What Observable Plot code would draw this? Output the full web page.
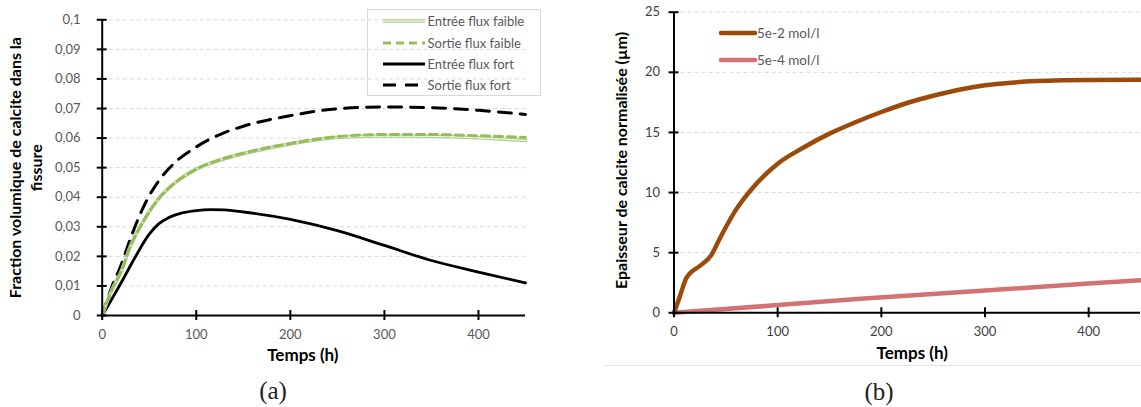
<!DOCTYPE html>
<html><head><meta charset="utf-8">
<script src="https://cdn.jsdelivr.net/npm/d3@7"></script>
<script src="https://cdn.jsdelivr.net/npm/@observablehq/plot@0.6"></script>
<style>
body{margin:0;background:#fff;}
#wrap{position:relative;width:1141px;height:407px;overflow:hidden;font-family:Lato,sans-serif;}
#wrap > svg{position:absolute;top:0;}
.cap{position:absolute;font-family:"Liberation Serif",serif;font-size:25px;color:#222;transform:translate(-50%,-50%);white-space:nowrap;}
.leg{position:absolute;font-family:Lato,sans-serif;color:#595959;white-space:nowrap;}
.leg svg{position:absolute;}
.leg span{position:absolute;transform:translateY(-50%);}
</style></head><body><div id="wrap"></div>
<script>
// ---------- Data: panel (a) ----------
const tA = [0,10,20,30,45,60,80,100,125,150,200,250,300,350,400,450];
const entreeFaible = [0,0.0085,0.0148,0.0235,0.0325,0.0395,0.0455,0.0495,0.0525,0.0547,0.058,0.0602,0.0607,0.0606,0.0601,0.0592];
const sortieFaible = [0,0.0085,0.0148,0.0235,0.0325,0.0395,0.0455,0.0495,0.0527,0.0549,0.0582,0.0605,0.0612,0.0612,0.0608,0.0602];
const tSortieFort = [0,10,20,30,40,50,60,75,100,125,150,200,250,300,350,400,450];
const sortieFort = [0,0.0095,0.017,0.026,0.034,0.0405,0.0455,0.051,0.057,0.0612,0.064,0.0676,0.0699,0.0705,0.0703,0.0694,0.068];
const tEntreeFort = [0,20,35,50,60,70,85,100,115,130,150,200,250,300,350,400,450];
const entreeFort = [0,0.011,0.0197,0.0275,0.031,0.033,0.0347,0.0355,0.0358,0.0357,0.035,0.0325,0.0287,0.0237,0.0186,0.0147,0.011];
const yTicksA = [0,0.01,0.02,0.03,0.04,0.05,0.06,0.07,0.08,0.09,0.1];
const xTicks = [0,100,200,300,400];
const seriesNamesA = ["Entrée flux faible","Sortie flux faible","Entrée flux fort","Sortie flux fort"];
const yLabelA = "Fraction volumique de calcite dans la\nfissure";
const xLabel = "Temps (h)";

// ---------- Data: panel (b) ----------
const tB1 = [0,5,12,15,25,36,42,48,60,75,100,125,150,175,200,225,250,275,300,325,350,375,400,450];
const conc2 = [0,1.2,2.9,3.25,3.9,4.8,5.8,6.8,8.6,10.3,12.4,13.75,14.9,15.85,16.7,17.45,18.05,18.55,18.92,19.14,19.27,19.34,19.37,19.38];
const tB2 = [0,100,180,300,400,450];
const conc4 = [0,0.64,1.16,1.85,2.43,2.7];
const yTicksB = [0,5,10,15,20,25];
const seriesNamesB = ["5e-2 mol/l","5e-4 mol/l"];
const yLabelB = "Epaisseur de calcite normalisée (µm)";
const captions = ["(a)","(b)"];

const rows = (t, v) => t.map((x, i) => ({t: x, v: v[i]}));
const commaFmt = d => String(d).replace(".", ",");

const wrap = document.getElementById("wrap");

// ---------- Panel (a) ----------
const plotA = Plot.plot({
  width: 570, height: 407,
  marginLeft: 101.7, marginRight: 45, marginTop: 19.3, marginBottom: 92,
  x: {domain: [0, 450]},
  y: {domain: [0, 0.1]},
  style: {fontFamily: "Lato, sans-serif", fontSize: "13px", background: "transparent", overflow: "visible"},
  marks: [
    Plot.gridY(yTicksA.slice(1), {stroke: "#d9d9d9", strokeOpacity: 1, strokeDasharray: "4,3"}),
    Plot.line(rows(tEntreeFort, entreeFort), {x: "t", y: "v", stroke: "#000", strokeWidth: 2.8, curve: "monotone-x"}),
    Plot.line(rows(tSortieFort, sortieFort), {x: "t", y: "v", stroke: "#000", strokeWidth: 3, strokeDasharray: "13,9", curve: "monotone-x"}),
    Plot.line(rows(tA, entreeFaible), {x: "t", y: "v", stroke: "#a9d18e", strokeWidth: 3.5, curve: "monotone-x"}),
    Plot.line(rows(tA, entreeFaible), {x: "t", y: "v", stroke: "#fff", strokeWidth: 1, curve: "monotone-x"}),
    Plot.line(rows(tA, sortieFaible), {x: "t", y: "v", stroke: "#9bbb59", strokeWidth: 3, strokeDasharray: "8,5", curve: "monotone-x"}),
    Plot.ruleX([0], {stroke: "#000", strokeWidth: 2}),
    Plot.ruleY([0], {stroke: "#000", strokeWidth: 2}),
    Plot.axisY(yTicksA, {tickSize: 10, dx: 5, tickPadding: 16.7, stroke: "#000", strokeWidth: 2, fill: "#595959", fontSize: 13, tickFormat: commaFmt, label: null}),
    Plot.axisX(xTicks, {tickSize: 10, dy: -5, tickPadding: 9, stroke: "#000", strokeWidth: 2, fill: "#595959", fontSize: 13, label: null}),
    Plot.text([xLabel], {text: d => d, frameAnchor: "bottom", lineAnchor: "middle", dx: -11, dy: 40, fontSize: 17, fontWeight: "bold", fill: "#000"}),
    Plot.text([yLabelA], {text: d => d, frameAnchor: "left", textAnchor: "middle", rotate: -90, dx: -77, lineAnchor: "middle", lineHeight: 1.3, fontSize: 16, fontWeight: "bold", fill: "#000"})
  ]
});
plotA.style.left = "0px";
wrap.appendChild(plotA);

// ---------- Panel (b) ----------
const plotB = Plot.plot({
  width: 571, height: 407,
  marginLeft: 103.5, marginRight: 1, marginTop: 11.7, marginBottom: 94.7,
  x: {domain: [0, 450]},
  y: {domain: [0, 25]},
  style: {fontFamily: "Lato, sans-serif", fontSize: "13px", background: "transparent", overflow: "visible"},
  marks: [
    Plot.gridY(yTicksB.slice(1), {stroke: "#d9d9d9", strokeOpacity: 1, strokeDasharray: "4,3"}),
    Plot.line(rows(tB2, conc4), {x: "t", y: "v", stroke: "#d27272", strokeWidth: 4.5}),
    Plot.line(rows(tB1, conc2), {x: "t", y: "v", stroke: "#9c4a0a", strokeWidth: 4.5, curve: "monotone-x"}),
    Plot.ruleX([0], {stroke: "#000", strokeWidth: 2}),
    Plot.ruleY([0], {stroke: "#000", strokeWidth: 2}),
    Plot.axisY(yTicksB, {tickSize: 10, dx: 5, tickPadding: 9, stroke: "#000", strokeWidth: 2, fill: "#404040", fontSize: 13, label: null}),
    Plot.axisX(xTicks, {tickSize: 10, dy: -5, tickPadding: 9, stroke: "#000", strokeWidth: 2, fill: "#404040", fontSize: 13, label: null}),
    Plot.text([xLabel], {text: d => d, frameAnchor: "bottom", lineAnchor: "middle", dx: 5, dy: 41, fontSize: 17, fontWeight: "bold", fill: "#000"}),
    Plot.text([yLabelB], {text: d => d, frameAnchor: "left", textAnchor: "middle", rotate: -90, dx: -52, dy: -2, lineAnchor: "middle", fontSize: 16, fontWeight: "bold", fill: "#000"})
  ]
});
plotB.style.left = "570px";
wrap.appendChild(plotB);

// ---------- Legends ----------
const swA = [
  {stroke: "#a9d18e", w: 3.5, dash: null, inner: true},
  {stroke: "#9bbb59", w: 3, dash: "8,5"},
  {stroke: "#000", w: 2.8, dash: null},
  {stroke: "#000", w: 3, dash: "13,9"}
];
const legA = document.createElement("div");
legA.className = "leg";
Object.assign(legA.style, {left: "366.5px", top: "9px", width: "172px", height: "85px", border: "1px solid #d9d9d9", fontSize: "13px"});
const rowYA = [11, 32.7, 53.7, 75];
seriesNamesA.forEach((name, i) => {
  const s = swA[i];
  const svg = document.createElementNS("http://www.w3.org/2000/svg", "svg");
  svg.setAttribute("width", 44); svg.setAttribute("height", 10);
  svg.style.left = "14px"; svg.style.top = (rowYA[i] - 5) + "px";
  let inner = `<line x1="1" x2="43" y1="5" y2="5" stroke="${s.stroke}" stroke-width="${s.w}" ${s.dash ? `stroke-dasharray="${s.dash}"` : ""}/>`;
  if (s.inner) inner += `<line x1="1" x2="43" y1="5" y2="5" stroke="#fff" stroke-width="1"/>`;
  svg.innerHTML = inner;
  legA.appendChild(svg);
  const sp = document.createElement("span");
  sp.textContent = name;
  sp.style.left = "60px"; sp.style.top = rowYA[i] + "px";
  legA.appendChild(sp);
});
wrap.appendChild(legA);

const swB = ["#9c4a0a", "#d27272"];
const legB = document.createElement("div");
legB.className = "leg";
Object.assign(legB.style, {left: "718px", top: "20px", width: "120px", height: "60px", fontSize: "13.5px"});
const rowYB = [12.7, 40.3];
seriesNamesB.forEach((name, i) => {
  const svg = document.createElementNS("http://www.w3.org/2000/svg", "svg");
  svg.setAttribute("width", 40); svg.setAttribute("height", 10);
  svg.style.left = "0px"; svg.style.top = (rowYB[i] - 5) + "px";
  svg.innerHTML = `<line x1="3" x2="37" y1="5" y2="5" stroke="${swB[i]}" stroke-width="4.5" stroke-linecap="round"/>`;
  legB.appendChild(svg);
  const sp = document.createElement("span");
  sp.textContent = name;
  sp.style.left = "39px"; sp.style.top = rowYB[i] + "px";
  legB.appendChild(sp);
});
wrap.appendChild(legB);

// separator under panel (b)
const sep = document.createElement("div");
Object.assign(sep.style, {position: "absolute", left: "604px", top: "365px", width: "537px", height: "1px", background: "#e3e3e3"});
wrap.appendChild(sep);

// captions
[[273, 391], [879, 391.5]].forEach((p, i) => {
  const c = document.createElement("div");
  c.className = "cap";
  c.textContent = captions[i];
  c.style.left = p[0] + "px"; c.style.top = p[1] + "px";
  wrap.appendChild(c);
});
</script>
</body></html>
